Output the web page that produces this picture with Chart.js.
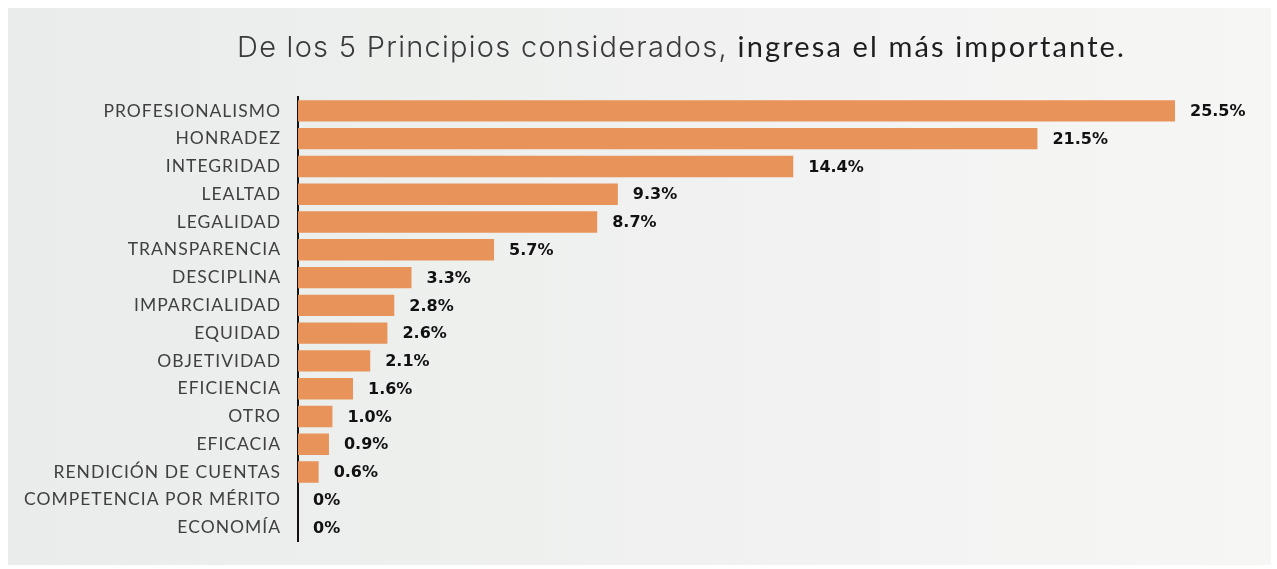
<!DOCTYPE html>
<html>
<head>
<meta charset="utf-8">
<script src="https://cdn.jsdelivr.net/npm/chart.js@4.4.0/dist/chart.umd.min.js"></script>
<style>
  html, body { margin: 0; padding: 0; background: #fff; }
  #wrap { width: 1277px; height: 569px; }
</style>
</head>
<body>
<div id="wrap"><canvas id="chart" width="1277" height="569"></canvas></div>
<script>
const categories = [
  "PROFESIONALISMO", "HONRADEZ", "INTEGRIDAD", "LEALTAD", "LEGALIDAD",
  "TRANSPARENCIA", "DESCIPLINA", "IMPARCIALIDAD", "EQUIDAD", "OBJETIVIDAD",
  "EFICIENCIA", "OTRO", "EFICACIA", "RENDICIÓN DE CUENTAS",
  "COMPETENCIA POR MÉRITO", "ECONOMÍA"
];
const values = [25.5, 21.5, 14.4, 9.3, 8.7, 5.7, 3.3, 2.8, 2.6, 2.1, 1.6, 1.0, 0.9, 0.6, 0, 0];
const valueLabels = ["25.5%", "21.5%", "14.4%", "9.3%", "8.7%", "5.7%", "3.3%", "2.8%",
  "2.6%", "2.1%", "1.6%", "1.0%", "0.9%", "0.6%", "0%", "0%"];
const titleLight = "De los 5 Principios considerados,";
const titleRegular = " ingresa el más importante.";

// fondo tipo diapositiva + espaciado de letras para las etiquetas del eje
const backdrop = {
  id: "backdrop",
  beforeDraw(chart) {
    const ctx = chart.ctx;
    const g = ctx.createLinearGradient(0, 0, chart.width, 0);
    g.addColorStop(0, "#e9ecea");
    g.addColorStop(1, "#f6f6f5");
    ctx.save();
    ctx.fillStyle = g;
    ctx.fillRect(8, 8, chart.width - 14, chart.height - 12);
    ctx.restore();
    ctx.letterSpacing = "1px";
  },
  beforeDatasetsDraw(chart) {
    chart.ctx.letterSpacing = "0px";
  }
};

// titulo con dos pesos de letra
const twoTitle = {
  id: "twoTitle",
  afterDraw(chart) {
    const ctx = chart.ctx;
    ctx.save();
    ctx.textBaseline = "alphabetic";
    const f1 = "300 29px Inter";
    const f2 = "400 29px Lato";
    ctx.letterSpacing = "0px";
    ctx.font = f1;
    const ls1 = (491 - ctx.measureText(titleLight).width) / titleLight.length;
    ctx.font = f2;
    const ls2 = (398 - ctx.measureText(titleRegular).width) / titleRegular.length;
    const x = 237;
    ctx.font = f1;
    ctx.letterSpacing = ls1 + "px";
    ctx.fillStyle = "#3a3a3a";
    ctx.fillText(titleLight, x, 57);
    ctx.font = f2;
    ctx.letterSpacing = ls2 + "px";
    ctx.fillStyle = "#1e1e1e";
    ctx.fillText(titleRegular, x + 491, 57);
    ctx.restore();
  }
};

// etiquetas de valor al final de cada barra
const barLabels = {
  id: "barLabels",
  afterDatasetsDraw(chart) {
    const ctx = chart.ctx;
    const meta = chart.getDatasetMeta(0);
    ctx.save();
    ctx.font = "bold 16px 'DejaVu Sans'";
    ctx.letterSpacing = "0px";
    ctx.fillStyle = "#111";
    ctx.textBaseline = "middle";
    meta.data.forEach((bar, i) => {
      ctx.fillText(valueLabels[i], bar.x + 15, bar.y + 1);
    });
    ctx.restore();
  }
};

new Chart(document.getElementById("chart"), {
  type: "bar",
  data: {
    labels: categories,
    datasets: [{
      data: values,
      backgroundColor: "#e8935a",
      categoryPercentage: 1,
      barPercentage: 0.77
    }]
  },
  options: {
    indexAxis: "y",
    responsive: false,
    animation: false,
    layout: { padding: { top: 97, bottom: 21, right: 16, left: 0 } },
    plugins: { legend: { display: false }, tooltip: { enabled: false } },
    scales: {
      x: { display: false, min: 0, max: 28 },
      y: {
        grid: { display: false, drawTicks: false },
        border: { display: true, color: "#111", width: 2 },
        ticks: {
          color: "#404040",
          padding: 17,
          font: { family: "Lato", size: 17.5 }
        },
        afterFit(scale) { scale.width = 298; }
      }
    }
  },
  plugins: [backdrop, twoTitle, barLabels]
});
</script>
</body>
</html>
